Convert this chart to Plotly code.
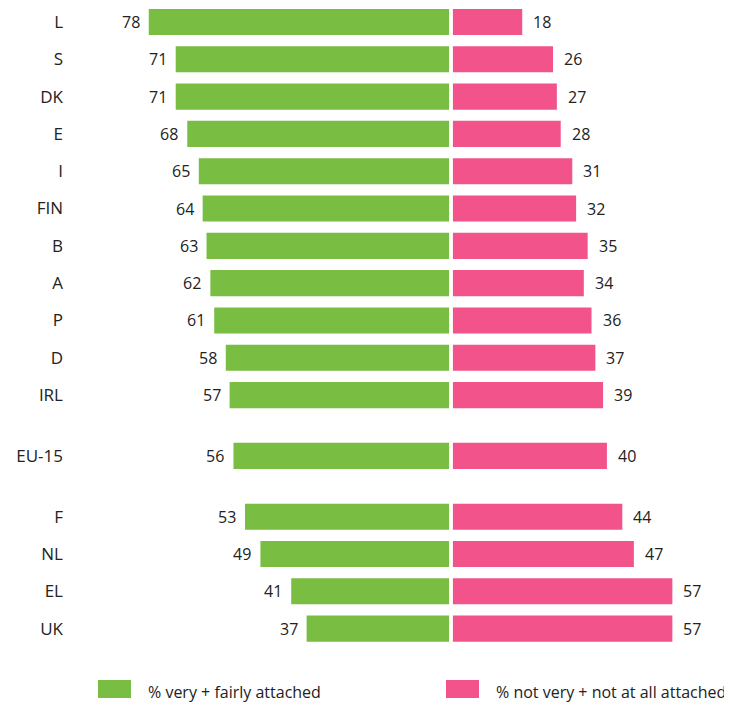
import plotly.graph_objects as go

# Attachment to own country, % by member state (top-to-bottom order)
countries = ["L", "S", "DK", "E", "I", "FIN", "B", "A", "P", "D", "IRL",
             "EU-15", "F", "NL", "EL", "UK"]
attached = [78, 71, 71, 68, 65, 64, 63, 62, 61, 58, 57, 56, 53, 49, 41, 37]
not_attached = [18, 26, 27, 28, 31, 32, 35, 34, 36, 37, 39, 40, 44, 47, 57, 57]

GREEN = "#79bd43"
PINK = "#f2538a"
TEXT = "#222222"
FONT = "Open Sans"

# page body has an 8px margin, so the figure is 8px smaller each way
W, H = 724, 697
ML, MR, MT, MB = 62, 10, 0, 54
PW, PH = W - ML - MR, H - MT - MB

# rows are evenly spaced, with an extra gap either side of the EU-15 row
GROUP_GAP = 0.63
ypos = []
for i, c in enumerate(countries):
    extra = 0.0
    if i >= countries.index("EU-15"):
        extra += GROUP_GAP
    if i > countries.index("EU-15"):
        extra += GROUP_GAP
    ypos.append(i + extra)

MID = 0.5  # half of the white gap between the two bars

fig = go.Figure()
fig.add_trace(go.Bar(
    y=ypos, x=[-v for v in attached], base=-MID, orientation="h",
    marker=dict(color=GREEN, line=dict(width=0)), width=0.7,
    name="% very + fairly attached", hoverinfo="skip",
))
fig.add_trace(go.Bar(
    y=ypos, x=not_attached, base=MID, orientation="h",
    marker=dict(color=PINK, line=dict(width=0)), width=0.7,
    name="% not very + not at all attached", hoverinfo="skip",
))

for y, a, n in zip(ypos, attached, not_attached):
    fig.add_annotation(x=-a - MID, y=y, text=str(a), showarrow=False,
                       xanchor="right", xshift=-7,
                       font=dict(family=FONT, size=16, color=TEXT))
    fig.add_annotation(x=n + MID, y=y, text=str(n), showarrow=False,
                       xanchor="left", xshift=9,
                       font=dict(family=FONT, size=16, color=TEXT))

# legend drawn by hand: big swatches under the plot (figure pixels)
legend_items = [
    (GREEN, "% very + fairly attached", 90),
    (PINK, "% not very + not at all attached", 438),
]
for color, label, x0 in legend_items:
    fig.add_shape(type="rect", xref="paper", yref="paper",
                  x0=(x0 - ML) / PW, x1=(x0 + 33 - ML) / PW,
                  y0=-(672 - PH) / PH, y1=-(690 - PH) / PH,
                  fillcolor=color, line=dict(width=0))
    fig.add_annotation(xref="paper", yref="paper",
                       x=(x0 + 48 - ML) / PW, y=-(684 - PH) / PH,
                       text=label, showarrow=False, xanchor="left",
                       yanchor="middle",
                       font=dict(family=FONT, size=16, color=TEXT))

fig.update_layout(
    width=W, height=H,
    margin=dict(l=ML, r=MR, t=MT, b=MB),
    plot_bgcolor="white", paper_bgcolor="white",
    barmode="overlay", showlegend=False,
    font=dict(family=FONT, size=16, color=TEXT),
    xaxis=dict(range=[-98.96, 70.39], visible=False, fixedrange=True),
    yaxis=dict(range=[ypos[-1] + 0.6, -0.375], tickvals=ypos,
               ticktext=countries, showgrid=False, zeroline=False,
               showline=False, ticks="", ticklabelstandoff=6,
               tickfont=dict(family=FONT, size=17, color=TEXT)),
)

fig.write_html("out.html")
